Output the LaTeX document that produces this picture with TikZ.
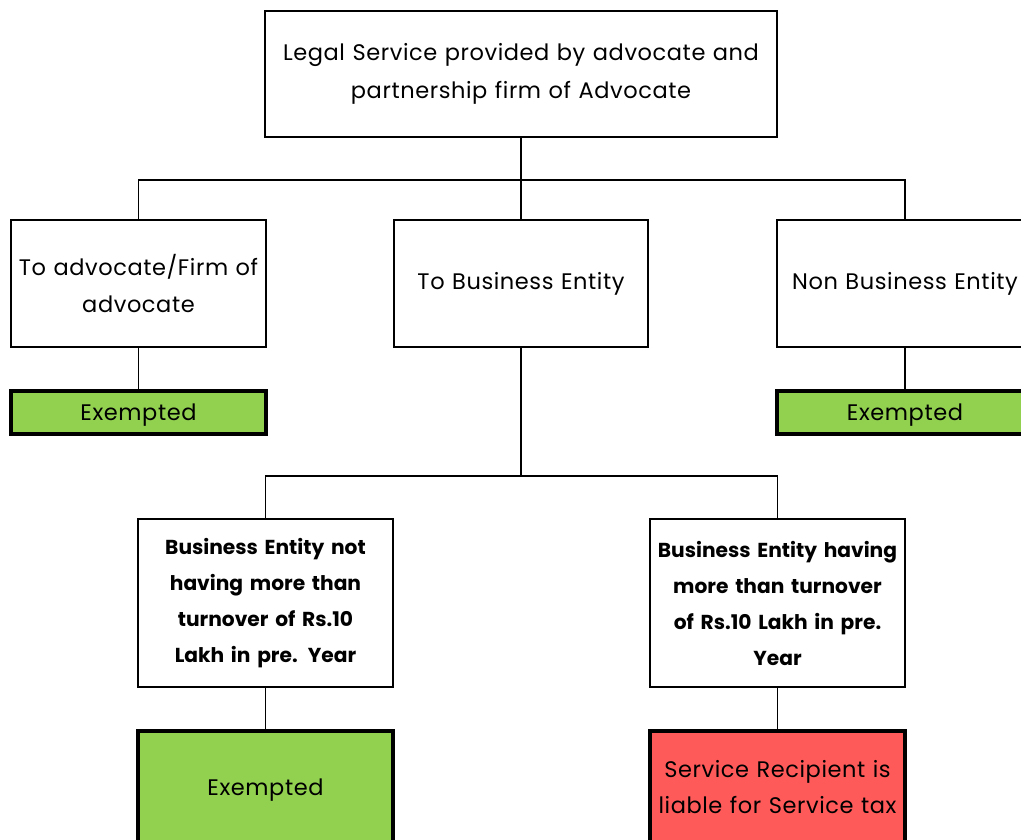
\documentclass[tikz,border=0pt]{standalone}
\usepackage{fontspec}
\setmainfont{Poppins}
\usetikzlibrary{calc}
\definecolor{exgreen}{HTML}{92D050}
\definecolor{liabred}{HTML}{FF5A5A}
\newfontfamily\normfont[LetterSpace=2.6]{Poppins}
\begin{document}
\begin{tikzpicture}[x=1pt,y=-1pt,
  box/.style={draw=black,line width=1.6pt,fill=white,inner sep=0pt,align=center,
     font=\normfont\fontsize{22.5}{37.5}\selectfont},
  boldbox/.style={box,font=\fontsize{20.2}{36}\selectfont\bfseries},
  greenbox/.style={draw=black,line width=4pt,fill=exgreen,inner sep=0pt,align=center,
     font=\normfont\fontsize{22.5}{36}\selectfont},
  redbox/.style={greenbox,fill=liabred},
  oneline/.style={text height=21pt,text depth=5pt},
  link/.style={draw=black,line width=1.6pt}]
\useasboundingbox (0,0) rectangle (1021,840);
\clip (0,0) rectangle (1021,840);
\node[box,minimum width=512pt,minimum height=126pt,text width=505pt] (top) at (521,74)
  {Legal Service provided by advocate and\\partnership firm of Advocate};
\node[box,minimum width=255pt,minimum height=127pt,text width=250pt] (left) at (138.5,283.5)
  {To advocate/Firm of\\advocate};
\node[box,minimum width=254pt,minimum height=127pt,text width=250pt] (mid) at (521,283.5)
  {To Business Entity};
\node[box,minimum width=256pt,minimum height=127pt,text width=250pt] (right) at (905,283.5)
  {Non Business Entity};
\node[greenbox,oneline,minimum width=255pt,minimum height=43pt,text width=250pt] (gl) at (138.5,412.5) {Exempted};
\node[greenbox,oneline,minimum width=256pt,minimum height=43pt,text width=250pt] (gr) at (905,412.5) {Exempted};
\node[boldbox,minimum width=255pt,minimum height=168pt,text width=250pt] (bl) at (265.5,603)
  {Business Entity not\\having more than\\turnover of Rs.10\\Lakh in pre. Year};
\node[boldbox,minimum width=255pt,minimum height=168pt,text width=250pt] (br) at (777.5,603)
  {Business Entity having\\more than turnover\\of Rs.10 Lakh in pre.\\Year};
\node[greenbox,oneline,minimum width=255pt,minimum height=112pt,text width=250pt] (gb) at (265.5,787) {Exempted};
\node[redbox,minimum width=255pt,minimum height=112pt,text width=250pt] (rb) at (777.5,787)
  {Service Recipient is\\liable for Service tax};
\coordinate (j1) at (521,180);
\coordinate (j2) at (521,476);
\draw[link] (top.south) -- (j1);
\draw[link] (left.north) |- (j1) -| (right.north);
\draw[link] (j1) -- (mid.north);
\draw[link] (left.south) -- (gl.north);
\draw[link] (right.south) -- (gr.north);
\draw[link] (mid.south) -- (j2);
\draw[link] (bl.north) |- (j2) -| (br.north);
\draw[link] (bl.south) -- (gb.north);
\draw[link] (br.south) -- (rb.north);
\end{tikzpicture}
\end{document}
